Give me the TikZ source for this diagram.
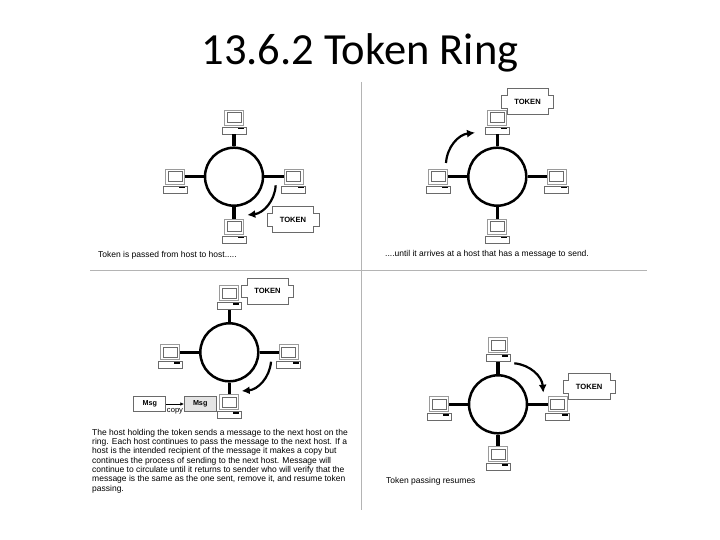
\documentclass[tikz,border=0pt]{standalone}
\usepackage{fontspec}
\setmainfont{Liberation Sans}
\newfontfamily\titlefont{Carlito}
\definecolor{rule}{HTML}{B4B4B4}
\definecolor{edge}{HTML}{6A6A6A}
\definecolor{shade}{HTML}{9A9A9A}
\definecolor{msggray}{HTML}{E4E4E4}
\usetikzlibrary{calc, positioning, arrows.meta}
\tikzset{
  ringnode/.style={circle, draw=black, line width=2.5pt, minimum size=58pt, inner sep=0pt},
  spoke/.style={line width=3.6pt},
  monitor/.style={rectangle, draw=shade, line width=1pt, fill=white, minimum width=19pt, minimum height=15pt, inner sep=0pt},
  screenbox/.style={rectangle, draw=edge, line width=0.7pt, fill=white, minimum width=14pt, minimum height=10pt, inner sep=0pt},
  hostbase/.style={rectangle, draw=edge, line width=0.7pt, fill=white, minimum width=24pt, minimum height=7pt, inner sep=0pt},
  hostkey/.style={rectangle, fill=black, minimum width=6pt, minimum height=1.2pt, inner sep=0pt},
  tokenbox/.style={rectangle, minimum width=51.5pt, minimum height=25.5pt, inner sep=0pt, font=\fontsize{7.6}{9}\selectfont\bfseries},
  tokenline/.style={draw=edge, line width=0.7pt},
  passarrow/.style={line width=2.2pt, -{Latex[length=8pt, width=8pt]}},
  msgbox/.style={rectangle, draw=edge, line width=0.7pt, minimum width=32pt, minimum height=15pt, inner sep=0pt, font=\fontsize{7.2}{9}\selectfont\bfseries},
  caption/.style={anchor=west, inner sep=0pt, font=\fontsize{8.5}{9.3}\selectfont, align=left},
}
\newcommand{\hostpc}[3]{
  \node[monitor] (#1) at (#2,#3) {};
  \node[screenbox] (#1s) at (#1) {};
  \node[hostbase, below=1pt of #1] (#1b) {};
  \node[hostkey, anchor=north east] (#1k) at ($(#1b.north east)+(-2pt,-0.8pt)$) {};
}
\newcommand{\tokenring}[3]{
  \node[ringnode] (#1) at (#2,#3) {};
  \hostpc{#1t}{#2}{#3-58.9}
  \hostpc{#1l}{#2-59}{#3}
  \hostpc{#1r}{#2+59.5}{#3}
  \hostpc{#1u}{#2}{#3+50.1}
  \draw[spoke] (#1.north) -- (#1.north |- #1tb.south);
  \draw[spoke] (#1.west) -- (#1.west -| #1l.east);
  \draw[spoke] (#1.east) -- (#1.east -| #1r.west);
  \draw[spoke] (#1.south) -- (#1.south |- #1u.north);
}
\newcommand{\tokentag}[3]{
  \node[tokenbox] (#1) at (#2,#3) {TOKEN};
  \draw[tokenline]
    ($(#1.north west)+(5.3pt,0)$) -- ($(#1.north east)+(-5.3pt,0)$)
    -- ($(#1.north east)+(-5.3pt,-6.5pt)$) -- ($(#1.north east)+(0,-6.5pt)$)
    -- ($(#1.south east)+(0,6.5pt)$) -- ($(#1.south east)+(-5.3pt,6.5pt)$)
    -- ($(#1.south east)+(-5.3pt,0)$) -- ($(#1.south west)+(5.3pt,0)$)
    -- ($(#1.south west)+(5.3pt,6.5pt)$) -- ($(#1.south west)+(0,6.5pt)$)
    -- ($(#1.north west)+(0,-6.5pt)$) -- ($(#1.north west)+(5.3pt,-6.5pt)$) -- cycle;
}
\begin{document}
\begin{tikzpicture}[x=1pt, y=-1pt]
  \useasboundingbox (0,0) rectangle (720,540);
  \node[font=\titlefont\fontsize{44.5}{50}\selectfont, inner sep=0pt] (title) at (360,53) {13.6.2 Token Ring};

  \coordinate (vtop) at (361,82);
  \coordinate (vbot) at (361,510);
  \coordinate (hleft) at (90,270);
  \coordinate (hright) at (647,270);
  \draw[rule] (vtop) -- (vbot);
  \draw[rule] (hleft) -- (hright);

  \tokenring{ringa}{234}{176.7}
  \tokentag{toka}{293}{219.5}
  \coordinate (froma) at (275.7,185.3);
  \coordinate (toa) at (247.3,215);
  \draw[passarrow] (froma) to[bend left=40] (toa);
  \node[caption] (capa) at (98,255.7) {Token is passed from host to host.....};

  \tokenring{ringb}{497.3}{176.7}
  \tokentag{tokb}{527.5}{101.8}
  \coordinate (fromb) at (446,163);
  \coordinate (tob) at (475,132.7);
  \draw[passarrow] (fromb) to[bend left=40] (tob);
  \node[caption] (capb) at (385,254) {....until it arrives at a host that has a message to send.};

  \tokenring{ringc}{229.3}{352.3}
  \tokentag{tokc}{267.5}{291.3}
  \coordinate (fromc) at (271,361.7);
  \coordinate (toc) at (241.7,391);
  \draw[passarrow] (fromc) to[bend left=40] (toc);
  \node[msgbox] (msga) at (149.8,403.5) {Msg};
  \node[msgbox, fill=msggray] (msgb) at (200.2,404) {Msg};
  \draw[-{Latex[length=3.5pt, width=3.5pt]}, line width=0.7pt] (msga.east |- msgb) -- (msgb.west);
  \node[inner sep=0pt, font=\fontsize{7.6}{8}\selectfont] (copy) at (175,411.5) {copy};
  \node[caption] (capc) at (92,461) {The host holding the token sends a message to the next host on the\\
    ring. Each host continues to pass the message to the next host. If a\\
    host is the intended recipient of the message it makes a copy but\\
    continues the process of sending to the next host. Message will\\
    continue to circulate until it returns to sender who will verify that the\\
    message is the same as the one sent, remove it, and resume token\\
    passing.};

  \tokenring{ringd}{498}{404.3}
  \tokentag{tokd}{589.2}{386.7}
  \coordinate (fromd) at (514.3,363.3);
  \coordinate (tod) at (543.3,392.7);
  \draw[passarrow] (fromd) to[bend left=40] (tod);
  \node[caption] (capd) at (386,481.3) {Token passing resumes};
\end{tikzpicture}
\end{document}
